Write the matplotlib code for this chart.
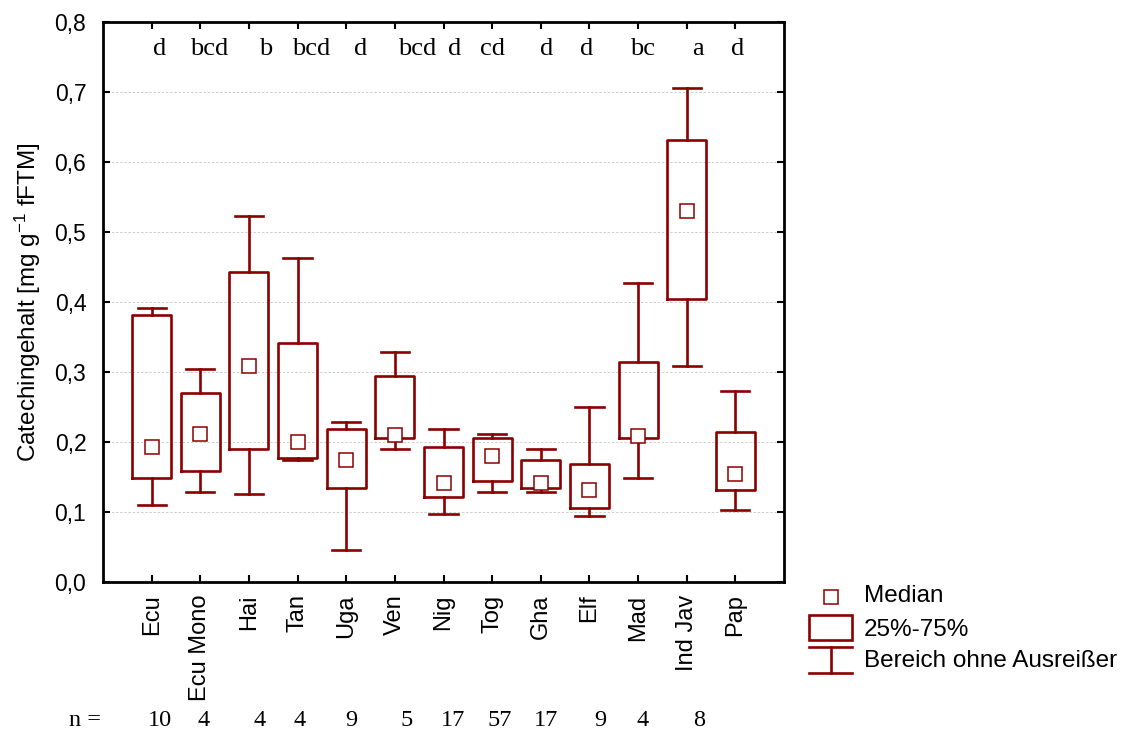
import numpy as np
import matplotlib
matplotlib.use("Agg")
import matplotlib.pyplot as plt
from matplotlib.transforms import blended_transform_factory
from matplotlib.patches import Rectangle

matplotlib.rcParams["mathtext.fontset"] = "custom"
matplotlib.rcParams["mathtext.rm"] = "Liberation Sans"
matplotlib.rcParams["mathtext.it"] = "Liberation Sans:italic"
matplotlib.rcParams["mathtext.default"] = "rm"

# Catechin content per origin (box = 25%-75%, whiskers = range without outliers)
origins = ["Ecu", "Ecu Mono", "Hai", "Tan", "Uga", "Ven", "Nig",
           "Tog", "Gha", "Elf", "Mad", "Ind Jav", "Pap"]
medians = [0.193, 0.212, 0.309, 0.200, 0.174, 0.210, 0.142,
           0.180, 0.142, 0.132, 0.209, 0.530, 0.155]
q25 = [0.148, 0.158, 0.190, 0.177, 0.135, 0.206, 0.122,
       0.145, 0.135, 0.106, 0.206, 0.405, 0.132]
q75 = [0.382, 0.270, 0.443, 0.341, 0.219, 0.295, 0.193,
       0.206, 0.174, 0.168, 0.315, 0.631, 0.215]
wlo = [0.110, 0.129, 0.126, 0.174, 0.046, 0.190, 0.097,
       0.129, 0.129, 0.094, 0.148, 0.308, 0.103]
whi = [0.392, 0.305, 0.523, 0.463, 0.228, 0.328, 0.219,
       0.212, 0.190, 0.250, 0.427, 0.706, 0.273]
groups = ["d", "bcd", "b", "bcd", "d", "bcd", "d",
          "cd", "d", "d", "bc", "a", "d"]
n_samples = ["10", "4", "4", "4", "9", "5", "17", "57", "17", "9", "4", "8", ""]

# small horizontal nudges for the letter and n rows
group_shift = [0.16, 0.19, 0.35, 0.27, 0.29, 0.45, 0.23, 0.0, 0.13, -0.05, 0.1, 0.23, 0.04]
n_shift = [0.16, 0.06, 0.22, 0.04, 0.1, 0.25, 0.19, 0.16, 0.1, 0.22, 0.1, 0.25, 0.0]

red = "#8b0000"
sans = "Liberation Sans"
serif = "Liberation Serif"
lw = 1.9

fig = plt.figure(figsize=(11.29, 7.34), dpi=100)
ax = fig.add_axes([103 / 1129, 1 - 582 / 734, 681 / 1129, 560 / 734])

pos = np.arange(1, len(origins) + 1)
stats = []
for i in range(len(origins)):
    stats.append(dict(med=medians[i], q1=q25[i], q3=q75[i],
                      whislo=wlo[i], whishi=whi[i], fliers=[]))

ax.bxp(stats, positions=pos, widths=0.8, capwidths=0.58,
       showfliers=False, patch_artist=False,
       boxprops=dict(color=red, linewidth=lw),
       whiskerprops=dict(color=red, linewidth=lw),
       capprops=dict(color=red, linewidth=lw),
       medianprops=dict(linewidth=0))
ax.plot(pos, medians, ls="none", marker="s", ms=9.5, mfc="white",
        mec=red, mew=1.1, zorder=5)

ax.set_xlim(0, 14)
ax.set_ylim(0, 0.8)
ax.set_yticks(np.arange(0, 0.81, 0.1))
ax.set_yticklabels([f"{v:.1f}".replace(".", ",") for v in np.arange(0, 0.81, 0.1)],
                   fontname=sans, fontsize=16.5)
ax.set_xticks(pos)
ax.set_xticklabels(origins, rotation=90, fontname=sans, fontsize=17)
ax.tick_params(direction="in", top=True, right=True, length=5, width=1.5)
ax.tick_params(axis="x", pad=9)
ax.tick_params(axis="y", pad=12)
for s in ax.spines.values():
    s.set_linewidth(2.0)
ax.yaxis.grid(True, ls=(0, (3, 2)), lw=0.6, color="#c8c8c8")
ax.set_axisbelow(True)
ax.set_ylabel("Catechingehalt [mg g$^{-1}$ fFTM]", fontname=sans, fontsize=17.5, labelpad=8)

# significance letters above the boxes
for i, g in enumerate(groups):
    ax.text(pos[i] + group_shift[i], 0.762, g, ha="center", va="center",
            fontname=serif, fontsize=19)

# sample counts below the axis
tr = blended_transform_factory(ax.transData, fig.transFigure)
ax.text(-0.37, 1 - 721 / 734, "n =", transform=tr, ha="center", va="center",
        fontname=serif, fontsize=17.5)
for i, n in enumerate(n_samples):
    ax.text(pos[i] + n_shift[i], 1 - 721 / 734, n, transform=tr, ha="center",
            va="center", fontname=serif, fontsize=17.5)

# legend drawn in pixel units to the lower right
lg = fig.add_axes([790 / 1129, 1 - 690 / 734, 339 / 1129, 120 / 734])
lg.set_xlim(790, 1129)
lg.set_ylim(690, 570)
lg.axis("off")
lg.plot([831], [596.5], ls="none", marker="s", ms=9.5, mfc="white", mec=red, mew=1.1)
lg.add_patch(Rectangle((809, 615), 43, 25, fill=False, ec=red, lw=lw))
lg.plot([809, 852], [646.5, 646.5], color=red, lw=lw)
lg.plot([809, 852], [673, 673], color=red, lw=lw)
lg.plot([830.5, 830.5], [646.5, 673], color=red, lw=lw)
lg.text(864, 596, "Median", va="center", fontname=sans, fontsize=17.5)
lg.text(864, 630, "25%-75%", va="center", fontname=sans, fontsize=17.5)
lg.text(864, 661, "Bereich ohne Ausreißer", va="center", fontname=sans, fontsize=17.5)

fig.savefig("out.png", dpi=100)
